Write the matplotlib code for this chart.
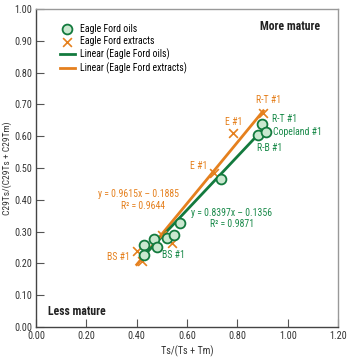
import matplotlib
matplotlib.use("Agg")
import matplotlib.pyplot as plt
from matplotlib import font_manager
import numpy as np

# Data
oil_x = [0.43, 0.43, 0.47, 0.48, 0.52, 0.55, 0.57, 0.735, 0.883, 0.897, 0.913]
oil_y = [0.258, 0.226, 0.278, 0.252, 0.280, 0.288, 0.328, 0.465, 0.603, 0.638, 0.614]
ext_x = [0.40, 0.42, 0.50, 0.54, 0.708, 0.784, 0.903]
ext_y = [0.240, 0.208, 0.290, 0.265, 0.485, 0.609, 0.672]
oil_fit = (0.8397, -0.1356)
ext_fit = (0.9615, -0.1885)
xticks = [0.0, 0.2, 0.4, 0.6, 0.8, 1.0, 1.2]
yticks = [0.0, 0.1, 0.2, 0.3, 0.4, 0.5, 0.6, 0.7, 0.8, 0.9, 1.0]

GREEN = '#137a3e'
GREEN_TXT = '#1a8a4a'
FILL = '#c9e8cf'
ORANGE = '#e5801e'

names = {f.name for f in font_manager.fontManager.ttflist}
fam = [n for n in ['Liberation Sans Narrow', 'DejaVu Sans Condensed', 'Roboto Condensed'] if n in names]
plt.rcParams['font.family'] = fam + ['DejaVu Sans']
fig = plt.figure(figsize=(3.5, 3.57), dpi=100)
ax = fig.add_axes([0.103, 0.084, 0.863, 0.891])

fs = 7.0
tfs = 7.3

# trend lines
xo = np.array([min(oil_x), max(oil_x)])
ax.plot(xo, oil_fit[0] * xo + oil_fit[1], color=GREEN, lw=2, zorder=2,
        label='Linear (Eagle Ford oils)')
xe = np.array([min(ext_x), max(ext_x)])
ax.plot(xe, ext_fit[0] * xe + ext_fit[1], color=ORANGE, lw=2, zorder=1,
        label='Linear (Eagle Ford extracts)')

ax.scatter(oil_x, oil_y, s=50, facecolor=FILL, edgecolor=GREEN, linewidth=1.3,
           zorder=4, label='Eagle Ford oils')
ax.scatter(ext_x, ext_y, s=40, marker='x', color=ORANGE, linewidth=1.2,
           zorder=3, label='Eagle Ford extracts')

ax.set_xlim(0, 1.2)
ax.set_ylim(0, 1.0)
ax.set_xticks(xticks)
ax.set_yticks(yticks)
ax.set_xticklabels([f'{v:.2f}' for v in xticks], fontsize=tfs, color='#333333')
ax.set_yticklabels([f'{v:.2f}' for v in yticks], fontsize=tfs, color='#333333')
ax.tick_params(direction='in', length=6, width=0.8, color='#555555', pad=3)
for s in ['left', 'bottom']:
    ax.spines[s].set_color('#444444')
    ax.spines[s].set_linewidth(1.0)
for s in ['top', 'right']:
    ax.spines[s].set_color('#999999')
    ax.spines[s].set_linewidth(1.0)

ax.set_xlabel('Ts/(Ts + Tm)', fontsize=tfs, color='#333333', labelpad=3)
ax.set_ylabel('C29Ts/(C29Ts + C29Tm)', fontsize=6.8, color='#333333', va='center')
ax.yaxis.set_label_coords(-0.097, 0.5)

h, l = ax.get_legend_handles_labels()
order = [2, 3, 0, 1]
ax.legend([h[i] for i in order], [l[i] for i in order], loc='upper left',
          bbox_to_anchor=(0.065, 0.965), frameon=False, fontsize=fs,
          handlelength=1.6, handletextpad=0.5, labelspacing=0.25,
          borderaxespad=0)

ax.text(1.01, 0.944, 'More mature', fontsize=8.5, fontweight='bold', ha='center',
        va='center', color='#222222')
ax.text(0.163, 0.048, 'Less mature', fontsize=8.5, fontweight='bold', ha='center',
        va='center', color='#222222')

ax.text(0.923, 0.714, 'R-T #1', fontsize=fs, color=ORANGE, ha='center', va='center')
ax.text(0.784, 0.646, 'E #1', fontsize=fs, color=ORANGE, ha='center', va='center')
ax.text(0.645, 0.506, 'E #1', fontsize=fs, color=ORANGE, ha='center', va='center')
ax.text(0.327, 0.221, 'BS #1', fontsize=fs, color=ORANGE, ha='center', va='center')
ax.text(0.406, 0.418, 'y = 0.9615x – 0.1885', fontsize=fs, color=ORANGE, ha='center', va='center')
ax.text(0.426, 0.382, 'R² = 0.9644', fontsize=fs, color=ORANGE, ha='center', va='center')

ax.text(0.936, 0.653, 'R-T #1', fontsize=fs, color=GREEN_TXT, ha='left', va='center')
ax.text(0.943, 0.614, 'Copeland #1', fontsize=fs, color=GREEN_TXT, ha='left', va='center')
ax.text(0.927, 0.564, 'R-B #1', fontsize=fs, color=GREEN_TXT, ha='center', va='center')
ax.text(0.546, 0.226, 'BS #1', fontsize=fs, color=GREEN_TXT, ha='center', va='center')
ax.text(0.778, 0.359, 'y = 0.8397x – 0.1356', fontsize=fs, color=GREEN_TXT, ha='center', va='center')
ax.text(0.778, 0.323, 'R² = 0.9871', fontsize=fs, color=GREEN_TXT, ha='center', va='center')

fig.savefig('out.png', dpi=100)
